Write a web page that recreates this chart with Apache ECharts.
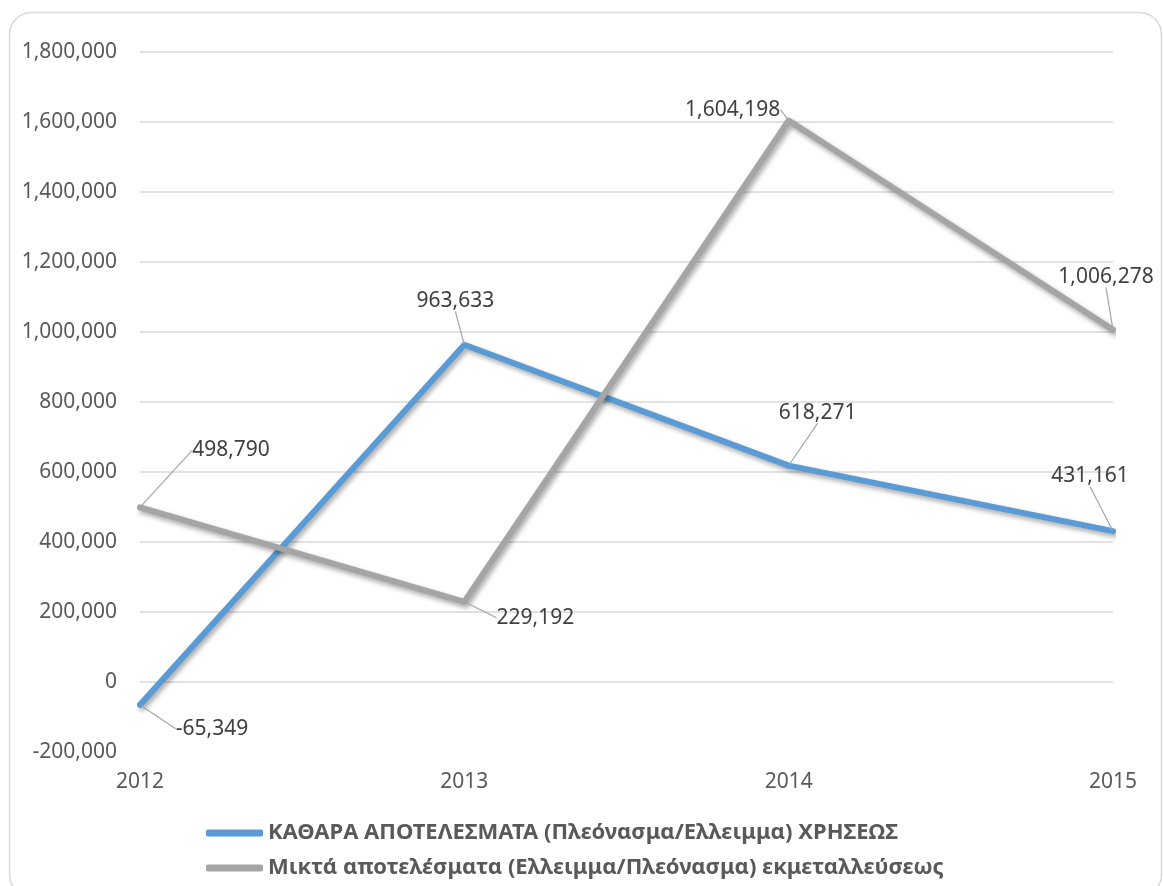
<!DOCTYPE html>
<html>
<head>
<meta charset="utf-8">
<script src="https://cdn.jsdelivr.net/npm/echarts@6/dist/echarts.min.js"></script>
<style>
  html, body { margin: 0; padding: 0; background: #ffffff; }
  #chart { width: 1163px; height: 886px; }
</style>
</head>
<body>
<div id="chart"></div>
<script>
// Fiscal years on the horizontal axis
const years = ['2012', '2013', '2014', '2015'];

// ΚΑΘΑΡΑ ΑΠΟΤΕΛΕΣΜΑΤΑ (net results of the year)
const netResults = [-65349, 963633, 618271, 431161];

// Μικτά αποτελέσματα (gross operating results)
const grossResults = [498790, 229192, 1604198, 1006278];

// Value axis range and step
const yMin = -200000;
const yMax = 1800000;
const yStep = 200000;

const seriesNames = [
  'ΚΑΘΑΡΑ ΑΠΟΤΕΛΕΣΜΑΤΑ (Πλεόνασμα/Ελλειμμα) ΧΡΗΣΕΩΣ',
  'Μικτά αποτελέσματα (Ελλειμμα/Πλεόνασμα) εκμεταλλεύσεως'
];

const FONT = 'Noto Sans';
const fmt = v => Number(v).toLocaleString('en-US');

// callout offsets (label centre relative to its point), one per year
const netCallouts = [[72, 24], [-9, -44], [29, -53], [-23, -55]];
const grossCallouts = [[91, -57], [71, 16], [-56, -11], [-7, -53]];

// gridline colours: the lowest line (the axis baseline) stays hidden
const gridCount = Math.round((yMax - yMin) / yStep) + 1;
const gridColors = Array.from({ length: gridCount }, (_, i) => i === 0 ? 'rgba(0,0,0,0)' : '#d9d9d9');

function lineSeries(name, data, color, callouts) {
  return {
    name: name,
    type: 'line',
    data: data,
    symbol: 'circle',
    symbolSize: 2,
    showSymbol: true,
    itemStyle: { color: color },
    lineStyle: {
      color: color,
      width: 6,
      cap: 'round',
      join: 'round',
      shadowColor: 'rgba(0,0,0,0.35)',
      shadowBlur: 5,
      shadowOffsetX: 2,
      shadowOffsetY: 3
    },
    label: {
      show: true,
      position: 'inside',
      formatter: p => fmt(p.value),
      fontFamily: FONT,
      fontSize: 21,
      color: '#404040'
    },
    labelLine: {
      show: true,
      lineStyle: { color: '#a6a6a6', width: 1.2 }
    },
    labelLayout: p => ({ dx: callouts[p.dataIndex][0], dy: callouts[p.dataIndex][1] }),
    emphasis: { disabled: true },
    animation: false
  };
}

const chart = echarts.init(document.getElementById('chart'), null, { renderer: 'canvas' });

chart.setOption({
  backgroundColor: '#ffffff',
  animation: false,
  graphic: [{
    type: 'rect',
    shape: { x: 9.5, y: 12.5, width: 1152, height: 884, r: 22 },
    style: { fill: 'none', stroke: '#d9d9d9', lineWidth: 1.5 },
    silent: true,
    z: -1
  }],
  grid: { left: 140, right: 50, top: 52, bottom: 134, containLabel: false },
  xAxis: {
    type: 'category',
    data: years,
    boundaryGap: false,
    axisLine: { show: false },
    axisTick: { show: false },
    axisLabel: { fontFamily: FONT, fontSize: 21, color: '#595959', margin: 20 }
  },
  yAxis: {
    type: 'value',
    min: yMin,
    max: yMax,
    interval: yStep,
    axisLine: { show: false },
    axisTick: { show: false },
    axisLabel: {
      fontFamily: FONT, fontSize: 21, color: '#595959', margin: 23,
      formatter: v => fmt(v)
    },
    splitLine: { show: true, lineStyle: { color: gridColors, width: 1.5 } }
  },
  legend: {
    orient: 'vertical',
    left: 206,
    top: 818,
    padding: 0,
    icon: 'roundRect',
    itemWidth: 57,
    itemHeight: 7,
    itemGap: 5,
    textStyle: { fontFamily: FONT, fontSize: 22, fontWeight: 'bold', color: '#595959', lineHeight: 30 },
    data: seriesNames
  },
  series: [
    lineSeries(seriesNames[0], netResults, '#5b9bd5', netCallouts),
    lineSeries(seriesNames[1], grossResults, '#a5a5a5', grossCallouts)
  ]
});
</script>
</body>
</html>
